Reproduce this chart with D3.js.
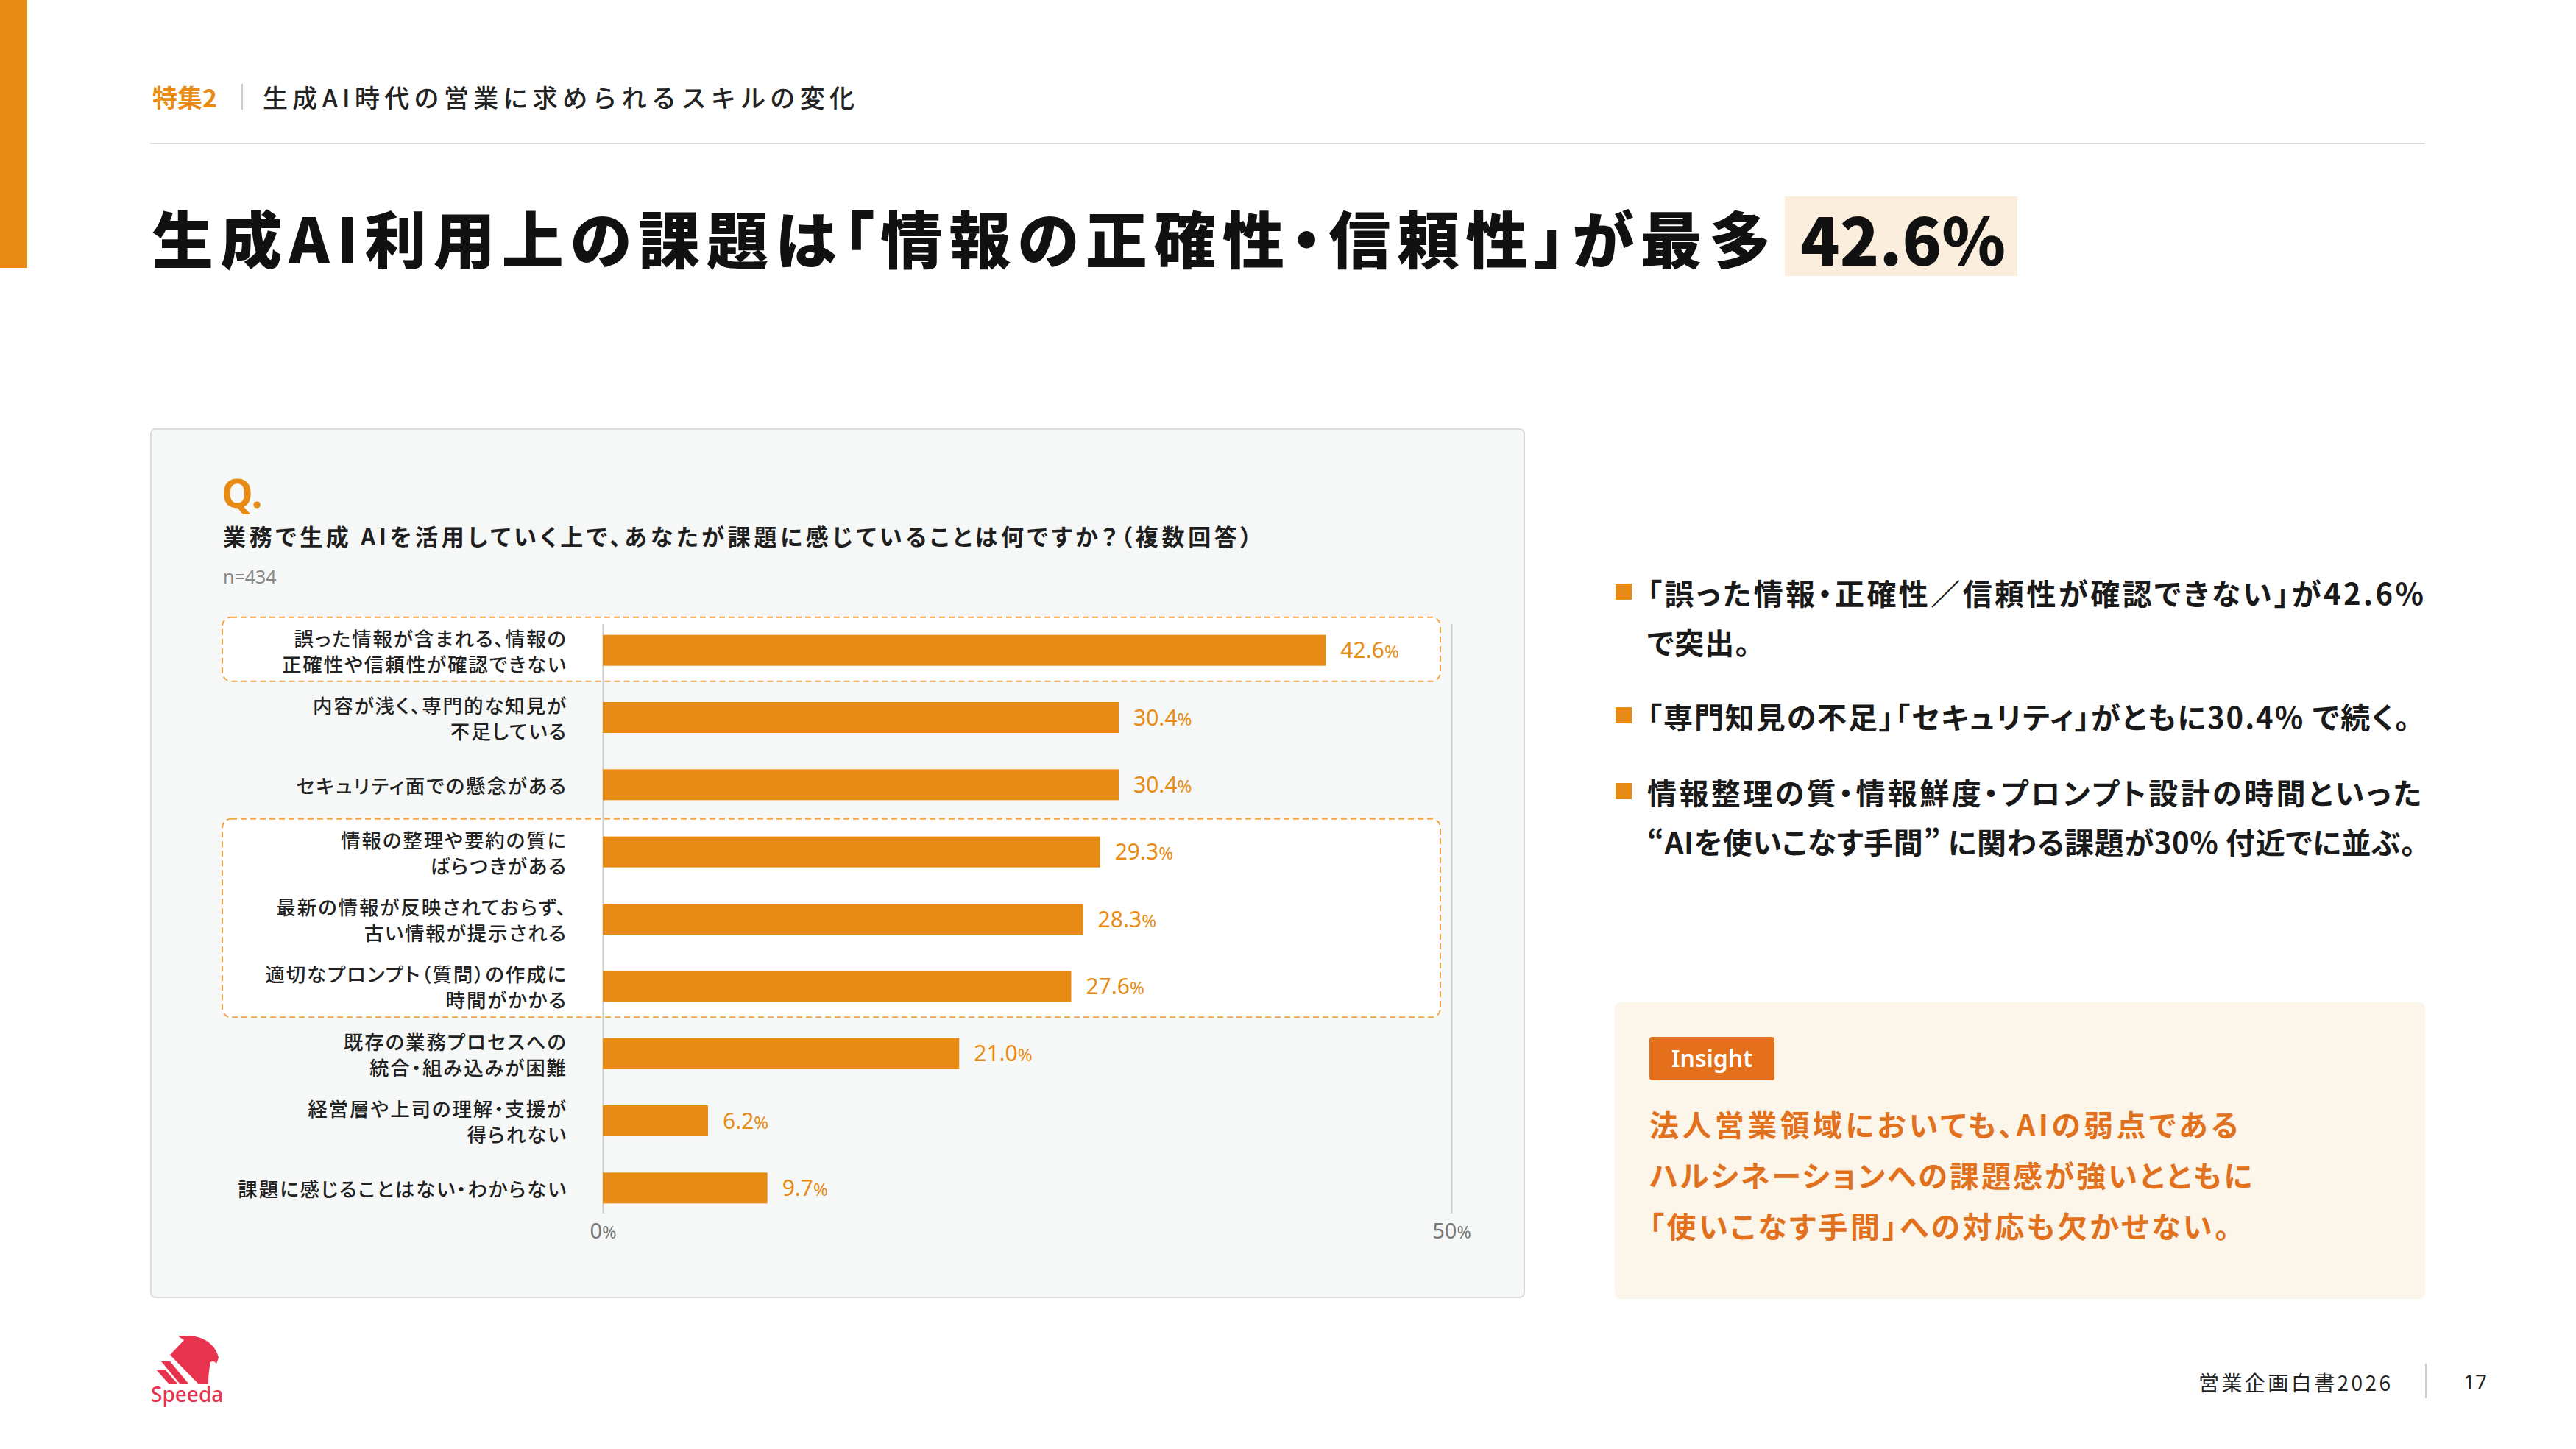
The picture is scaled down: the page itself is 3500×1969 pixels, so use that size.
<!DOCTYPE html>
<html lang="ja">
<head>
<meta charset="utf-8">
<script src="https://cdn.jsdelivr.net/npm/d3@7"></script>
<style>
  html, body { margin: 0; padding: 0; background: #fff; }
  svg { display: block; }
  .jp { font-family: "Noto Sans CJK JP", "Noto Sans", sans-serif; }
  .num { font-family: "Noto Sans", "Open Sans", sans-serif; }
  .palt { font-feature-settings: "palt" 1; }
</style>
</head>
<body>
<div id="chart"></div>
<script>
// chart data
const categories = [
  ["誤った情報が含まれる、情報の", "正確性や信頼性が確認できない"],
  ["内容が浅く、専門的な知見が", "不足している"],
  ["セキュリティ面での懸念がある"],
  ["情報の整理や要約の質に", "ばらつきがある"],
  ["最新の情報が反映されておらず、", "古い情報が提示される"],
  ["適切なプロンプト（質問）の作成に", "時間がかかる"],
  ["既存の業務プロセスへの", "統合・組み込みが困難"],
  ["経営層や上司の理解・支援が", "得られない"],
  ["課題に感じることはない・わからない"]
];
const values = [42.6, 30.4, 30.4, 29.3, 28.3, 27.6, 21.0, 6.2, 9.7];
const xTicks = [0, 50];
// rows grouped by dashed boxes (first index, last index)
const highlightGroups = [[0, 0], [3, 5]];

// page texts
const headerTag = "特集2";
const headerTitle = "生成AI時代の営業に求められるスキルの変化";
const pageTitle = "生成AI利用上の課題は「情報の正確性・信頼性」が最多";
const pageTitleValue = "42.6%";
const question = "業務で生成 AIを活用していく上で、あなたが課題に感じていることは何ですか？（複数回答）";
const sampleSize = "n=434";
const notes = [
  ["「誤った情報・正確性／信頼性が確認できない」が42.6%", "で突出。"],
  ["「専門知見の不足」「セキュリティ」がともに30.4% で続く。"],
  ["情報整理の質・情報鮮度・プロンプト設計の時間といった", "“AIを使いこなす手間” に関わる課題が30% 付近でに並ぶ。"]
];
const insightLines = [
  "法人営業領域においても、AIの弱点である",
  "ハルシネーションへの課題感が強いとともに",
  "「使いこなす手間」への対応も欠かせない。"
];
const footerTitle = "営業企画白書2026";
const pageNumber = "17";

const width = 3500;
const height = 1969;
const orange = "#E88B15";

const svg = d3.select("#chart").append("svg")
  .attr("width", width)
  .attr("height", height);

// left accent bar and header
svg.append("rect").attr("x", 0).attr("y", 0).attr("width", 37).attr("height", 364).attr("fill", orange);

svg.append("text").attr("class", "jp")
  .attr("x", 207).attr("y", 131).attr("dominant-baseline", "central")
  .attr("font-size", 34).attr("font-weight", 700).attr("fill", orange)
  .text(headerTag);
svg.append("line").attr("x1", 329).attr("x2", 329).attr("y1", 114).attr("y2", 149)
  .attr("stroke", "#cccccc").attr("stroke-width", 2);
svg.append("text").attr("class", "jp")
  .attr("x", 357).attr("y", 131).attr("dominant-baseline", "central")
  .attr("font-size", 34).attr("font-weight", 500).attr("fill", "#222")
  .attr("textLength", 804).attr("lengthAdjust", "spacing")
  .text(headerTitle);
svg.append("line").attr("x1", 204).attr("x2", 3295).attr("y1", 195).attr("y2", 195)
  .attr("stroke", "#dddddd").attr("stroke-width", 2);

// main title
svg.append("text").attr("class", "jp palt")
  .attr("x", 206).attr("y", 321).attr("dominant-baseline", "central")
  .attr("font-size", 84).attr("font-weight", 900).attr("fill", "#111")
  .attr("textLength", 2200).attr("lengthAdjust", "spacing")
  .text(pageTitle);
svg.append("rect").attr("x", 2425).attr("y", 267).attr("width", 316).attr("height", 108)
  .attr("fill", "#FCEEDD");
svg.append("text").attr("class", "jp")
  .attr("x", 2446).attr("y", 322).attr("dominant-baseline", "central")
  .attr("font-size", 88).attr("font-weight", 900).attr("fill", "#111")
  .attr("textLength", 279).attr("lengthAdjust", "spacing")
  .text(pageTitleValue);

// chart panel
svg.append("rect").attr("x", 205).attr("y", 583).attr("width", 1866).attr("height", 1180)
  .attr("rx", 6).attr("fill", "#F6F8F7").attr("stroke", "#DADDDC").attr("stroke-width", 2);

svg.append("text").attr("class", "num")
  .attr("x", 301).attr("y", 690)
  .attr("font-size", 54).attr("font-weight", 700).attr("fill", orange)
  .text("Q.");
svg.append("text").attr("class", "jp palt")
  .attr("x", 303).attr("y", 727).attr("dominant-baseline", "central")
  .attr("font-size", 31).attr("font-weight", 700).attr("fill", "#1f1f1f")
  .attr("textLength", 1398).attr("lengthAdjust", "spacing")
  .text(question);
svg.append("text").attr("class", "num")
  .attr("x", 303).attr("y", 793)
  .attr("font-size", 25).attr("fill", "#888")
  .text(sampleSize);

// scales
const keys = categories.map(d => d.join(""));
const x = d3.scaleLinear().domain([0, 50]).range([819, 1972]);
const y = d3.scaleBand().domain(keys).range([838, 1660]).paddingInner(0.54).paddingOuter(0.27);
const gridTop = 848;
const gridBottom = 1649;

// dashed highlight boxes
svg.selectAll("rect.highlight")
  .data(highlightGroups)
  .enter()
  .append("rect")
  .attr("class", "highlight")
  .attr("x", 302)
  .attr("y", d => y(keys[d[0]]) - 24)
  .attr("width", 1957 - 302)
  .attr("height", d => y(keys[d[1]]) + y.bandwidth() + 21 - (y(keys[d[0]]) - 24))
  .attr("rx", 12)
  .attr("fill", "#ffffff")
  .attr("stroke", "#F0A548")
  .attr("stroke-width", 2)
  .attr("stroke-dasharray", "8 5");

// axis with vertical grid lines
const xAxis = d3.axisBottom(x)
  .tickValues(xTicks)
  .tickSize(-(gridBottom - gridTop))
  .tickSizeOuter(0)
  .tickFormat(d => d);
const gAxis = svg.append("g")
  .attr("transform", `translate(0, ${gridBottom})`)
  .call(xAxis);
gAxis.select(".domain").remove();
gAxis.selectAll(".tick line").attr("stroke", "#C9CCCB").attr("stroke-width", 2);
gAxis.selectAll(".tick text")
  .attr("class", "num")
  .attr("y", 34).attr("dy", null)
  .attr("font-size", 29).attr("fill", "#777")
  .each(function (d) {
    const t = d3.select(this).text(null);
    t.append("tspan").text(d);
    t.append("tspan").attr("font-size", "0.8em").text("%");
  });

// bars
svg.selectAll("rect.bar")
  .data(values)
  .enter()
  .append("rect")
  .attr("class", "bar")
  .attr("x", x(0))
  .attr("y", (d, i) => y(keys[i]))
  .attr("width", d => x(d) - x(0))
  .attr("height", y.bandwidth())
  .attr("fill", orange);

// value labels
const valueLabels = svg.selectAll("text.value")
  .data(values)
  .enter()
  .append("text")
  .attr("class", "value num")
  .attr("x", d => x(d) + 20)
  .attr("y", (d, i) => y(keys[i]) + y.bandwidth() / 2 + 10.5)
  .attr("font-size", 30)
  .attr("fill", orange);
valueLabels.append("tspan").text(d => d.toFixed(1));
valueLabels.append("tspan").attr("font-size", "0.8em").text("%");

// category labels
const catLabels = svg.selectAll("text.cat")
  .data(categories)
  .enter()
  .append("text")
  .attr("class", "cat jp palt")
  .attr("text-anchor", "end")
  .attr("font-size", 26.5)
  .attr("font-weight", 500)
  .attr("letter-spacing", 1.9)
  .attr("fill", "#222");
catLabels.each(function (lines, i) {
  const cy = y(keys[i]) + y.bandwidth() / 2;
  const lineGap = 35;
  d3.select(this).selectAll("tspan")
    .data(lines)
    .enter()
    .append("tspan")
    .attr("x", 771)
    .attr("y", (l, j) => cy + (j - (lines.length - 1) / 2) * lineGap)
    .attr("dominant-baseline", "central")
    .text(l => l);
});

// right notes
const noteTop = [805, 973, 1076];
const noteLengths = [[1056, null], [1037], [1053, 1045]];
notes.forEach((lines, i) => {
  svg.append("rect")
    .attr("x", 2195).attr("y", noteTop[i] - 12)
    .attr("width", 22).attr("height", 22)
    .attr("fill", orange);
  lines.forEach((line, j) => {
    const t = svg.append("text").attr("class", "jp palt")
      .attr("x", 2238).attr("y", noteTop[i] + j * 67)
      .attr("dominant-baseline", "central")
      .attr("font-size", 40).attr("font-weight", 700).attr("fill", "#1a1a1a")
      .attr("letter-spacing", 1)
      .text(line);
    if (noteLengths[i][j]) t.attr("textLength", noteLengths[i][j]).attr("lengthAdjust", "spacing");
  });
});

// insight box
svg.append("rect").attr("x", 2194).attr("y", 1362).attr("width", 1101).attr("height", 403)
  .attr("rx", 8).attr("fill", "#FCF5EA");
svg.append("rect").attr("x", 2241).attr("y", 1409).attr("width", 170).attr("height", 59)
  .attr("rx", 4).attr("fill", "#E4701B");
svg.append("text").attr("class", "num")
  .attr("x", 2326).attr("y", 1450).attr("text-anchor", "middle")
  .attr("font-size", 32).attr("font-weight", 600).attr("fill", "#fff")
  .text("Insight");
const insightLengths = [800, 819, 788];
svg.selectAll("text.insight")
  .data(insightLines)
  .enter()
  .append("text")
  .attr("class", "insight jp palt")
  .attr("x", 2241)
  .attr("y", (d, i) => 1527 + i * 69)
  .attr("dominant-baseline", "central")
  .attr("font-size", 40).attr("font-weight", 700).attr("fill", "#E2711D")
  .attr("textLength", (d, i) => insightLengths[i]).attr("lengthAdjust", "spacing")
  .text(d => d);

// footer logo
const logo = svg.append("g").attr("fill", "#E8334F");
logo.append("path")
  .attr("d", "M231,1841 L250,1821 L241,1815 L265,1816 C281,1819 294,1830 297,1845 L294,1853 C292,1850 289,1849 286,1851 C284,1860 283,1872 283,1880 L269,1880 Z");
logo.append("path").attr("d", "M219,1850 L231,1850 L256,1880 L244,1880 Z");
logo.append("path").attr("d", "M212,1861 L224,1861 L241,1880 L229,1880 Z");
logo.append("text").attr("class", "num")
  .attr("x", 205).attr("y", 1905)
  .attr("font-size", 28).attr("font-weight", 500)
  .text("Speeda");

// footer page info
svg.append("text").attr("class", "jp")
  .attr("x", 2987).attr("y", 1878).attr("dominant-baseline", "central")
  .attr("font-size", 28).attr("fill", "#222")
  .attr("textLength", 261).attr("lengthAdjust", "spacing")
  .text(footerTitle);
svg.append("line").attr("x1", 3296).attr("x2", 3296).attr("y1", 1853).attr("y2", 1900)
  .attr("stroke", "#cccccc").attr("stroke-width", 2);
svg.append("text").attr("class", "num")
  .attr("x", 3347).attr("y", 1888)
  .attr("font-size", 28).attr("fill", "#222")
  .text(pageNumber);
</script>
</body>
</html>
